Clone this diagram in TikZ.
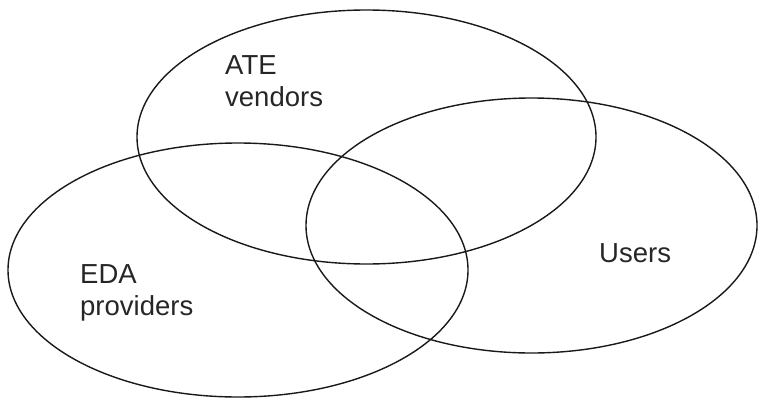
\documentclass[tikz,border=0pt]{standalone}
\usepackage{fontspec}
\setmainfont{Liberation Sans}
\begin{document}
\begin{tikzpicture}[x=1pt,y=-1pt,
  setring/.style={draw=black!90,line width=1.4pt},
  setlabel/.style={anchor=base west,inner sep=0pt,align=left,text=black!85,
    font=\fontsize{27.5}{32}\selectfont}]
\useasboundingbox (0,0) rectangle (759,399);
\draw[setring] (366.5,137) ellipse [x radius=229.5, y radius=127] coordinate (ate);
\draw[setring] (531.5,225.5) ellipse [x radius=225.5, y radius=127.5] coordinate (users);
\draw[setring] (238,270) ellipse [x radius=230, y radius=127] coordinate (eda);
\node[setlabel] (atelabel) at (225,106) {ATE\\vendors};
\node[setlabel] (usrlabel) at (599,262) {Users};
\node[setlabel] (edalabel) at (80,315) {EDA\\providers};
\end{tikzpicture}
\end{document}
